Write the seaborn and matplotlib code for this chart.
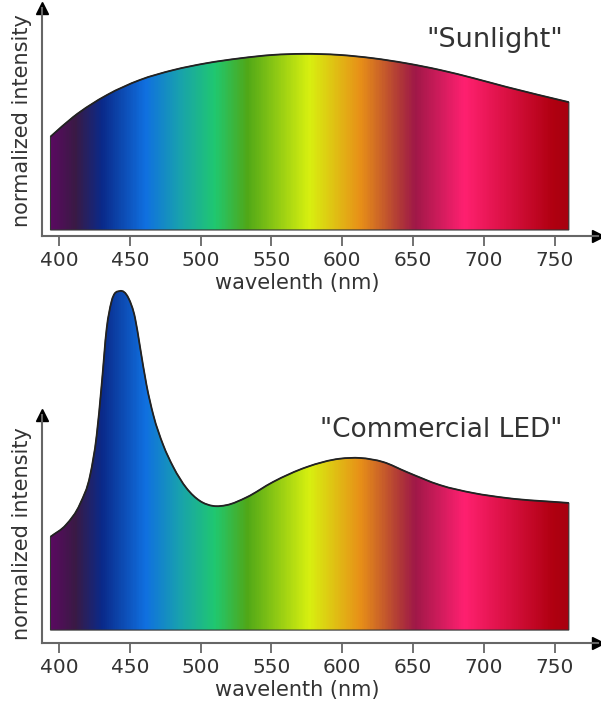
import numpy as np
import matplotlib
matplotlib.use("Agg")
import matplotlib.pyplot as plt
from matplotlib.colors import LinearSegmentedColormap
from matplotlib.path import Path
from matplotlib.patches import PathPatch
import seaborn as sns

# spectra, in units of the sunlight maximum
sun_nm = [394, 410, 434, 457, 481, 504, 528, 551, 572, 598, 622, 645, 669, 693, 716, 760]
sun_int = [0.527, 0.638, 0.763, 0.847, 0.904, 0.942, 0.970, 0.989, 0.995, 0.989, 0.970,
           0.942, 0.904, 0.857, 0.808, 0.722]

led_nm = [394, 405, 415, 422, 426.6, 430, 433.7, 437, 443, 449, 453.7, 457, 461.8, 466.6,
          473.6, 480.7, 490, 499.6, 509, 518.4, 532.5, 551, 575, 598.4, 612.6, 629, 645.5,
          669, 692.6, 716, 760]
led_int = [0.527, 0.595, 0.715, 0.875, 1.10, 1.375, 1.706, 1.853, 1.915, 1.876, 1.763,
           1.610, 1.384, 1.215, 1.045, 0.921, 0.802, 0.729, 0.701, 0.706, 0.750, 0.836,
           0.921, 0.968, 0.972, 0.949, 0.893, 0.819, 0.774, 0.746, 0.718]

ticks = [400, 450, 500, 550, 600, 650, 700, 750]

# rainbow colours of the fill
spec_nm = [394, 411, 430, 461, 484, 510, 533, 577, 613, 641, 652, 687, 750, 760]
spec_col = ["#5a0a60", "#3a1a45", "#0a2a8a", "#1070e0", "#18a0b0", "#20c870", "#50a818",
            "#d8f010", "#e89018", "#b03838", "#a01848", "#ff2070", "#b00010", "#a80010"]

sns.set_style("white")
plt.rcParams["font.family"] = ["DejaVu Sans"]
txt = "#333333"
axcol = "#666666"

spectrum = LinearSegmentedColormap.from_list(
    "spec", [((w - spec_nm[0]) / (spec_nm[-1] - spec_nm[0]), c) for w, c in zip(spec_nm, spec_col)])

fig = plt.figure(figsize=(6.01, 7.04), dpi=100)
W, H = 601, 704
XL = (388.0, 780.6)


def smooth_path(x, y):
    # cubic bezier through the read points (hermite tangents), closed down to y=0
    x = np.asarray(x, float)
    y = np.asarray(y, float)
    m = np.gradient(y, x)
    verts = [(x[0], 0), (x[0], y[0])]
    codes = [Path.MOVETO, Path.LINETO]
    for i in range(len(x) - 1):
        h = x[i + 1] - x[i]
        verts += [(x[i] + h / 3, y[i] + m[i] * h / 3),
                  (x[i + 1] - h / 3, y[i + 1] - m[i + 1] * h / 3),
                  (x[i + 1], y[i + 1])]
        codes += [Path.CURVE4] * 3
    top = Path(verts[1:], [Path.MOVETO] + codes[2:])
    verts += [(x[-1], 0), (x[0], 0)]
    codes += [Path.LINETO, Path.CLOSEPOLY]
    return Path(verts, codes), top


def panel(rect, nm, inten, ylim, ytop, name, name_xy, name_size):
    ax = fig.add_axes(rect)
    ax.patch.set_alpha(0)
    area, top = smooth_path(nm, inten)
    outline = PathPatch(area, facecolor="none", edgecolor="#333333", lw=0.8, zorder=3)
    ax.add_patch(outline)
    grad = np.linspace(0, 1, 600)[None, :]
    im = ax.imshow(grad, cmap=spectrum, aspect="auto", origin="lower",
                   extent=[nm[0], nm[-1], 0, max(inten) * 1.05], zorder=2)
    im.set_clip_path(outline)
    ax.add_patch(PathPatch(top, facecolor="none", edgecolor="#222222", lw=1.3, zorder=4))
    ax.set_xlim(*XL)
    ax.set_ylim(*ylim)
    sns.despine(ax=ax)
    for s in ("left", "bottom"):
        ax.spines[s].set_color(axcol)
        ax.spines[s].set_linewidth(1.5)
    ax.spines["left"].set_bounds(ylim[0], ytop)
    ax.set_xticks(ticks)
    ax.set_xticklabels([str(t) for t in ticks], fontsize=14.5, color=txt)
    ax.set_yticks([])
    ax.tick_params(axis="x", direction="out", length=7, width=1.3, color=axcol, pad=4, bottom=True)
    ax.plot(1, 0, marker=">", color="black", ms=9, transform=ax.transAxes, clip_on=False)
    ax.plot(XL[0], ytop, marker="^", color="black", ms=8, clip_on=False)
    ax.set_xlabel("wavelenth (nm)", fontsize=15, color=txt, va="center")
    ax.set_ylabel("normalized intensity", fontsize=15, color=txt, va="center")
    ax.text(name_xy[0], name_xy[1], name, fontsize=name_size, color=txt, ha="center", va="center")
    return ax


# top panel: axis at y=236 px, arrow top at y=8 px
ax1 = panel([42 / W, 1 - 236 / H, 556 / W, 228 / H], sun_nm, sun_int,
            (-0.034, 1.254), 1.254, '"Sunlight"', (708, 1.073), 19.5)
ax1.xaxis.set_label_coords((297 - 42) / 556, -47 / 228)
ax1.yaxis.set_label_coords(-20 / 556, (236 - 121) / 228)

# bottom panel: axis at y=643 px, axes top at y=285 px
ax2 = panel([42 / W, 1 - 643 / H, 556 / W, 358 / H], led_nm, led_int,
            (-0.073, 1.949), 1.215, '"Commercial LED"', (670, 1.13), 19)
ax2.xaxis.set_label_coords((297 - 42) / 556, -47 / 358)
ax2.yaxis.set_label_coords(-20 / 556, (643 - 534) / 358)

fig.savefig("out.png", dpi=100)
